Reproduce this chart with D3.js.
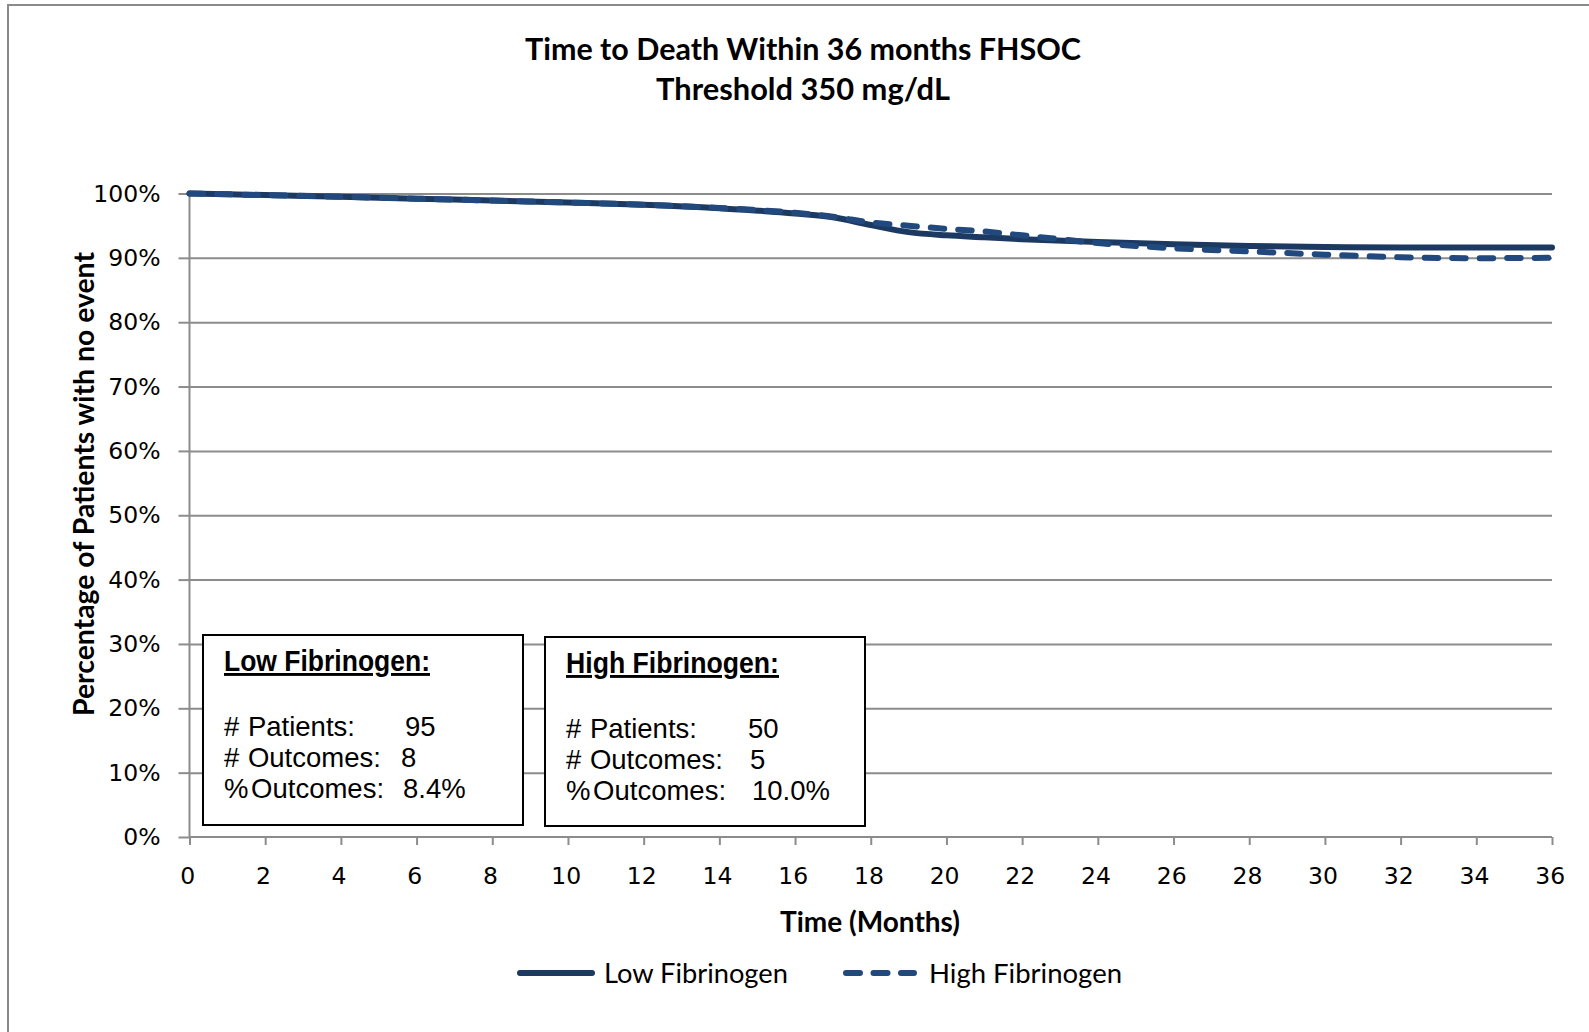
<!DOCTYPE html>
<html>
<head>
<meta charset="utf-8">
<script src="https://cdn.jsdelivr.net/npm/d3@7"></script>
<style>
  html, body { margin: 0; padding: 0; background: #fff; }
  svg { display: block; }
</style>
</head>
<body>
<svg id="chart" width="1589" height="1032"></svg>
<script>
// ---------------- DATA ----------------
const titleLines = ["Time to Death Within 36 months FHSOC", "Threshold 350 mg/dL"];
const yAxisTitle = "Percentage of Patients with no event";
const xAxisTitle = "Time (Months)";
const seriesNames = ["Low Fibrinogen", "High Fibrinogen"];

const lowMonths  = [0, 2, 4, 6, 8, 10, 12, 14, 16, 17, 18, 19, 20, 21, 22, 24, 26, 28, 30, 32, 34, 36];
const lowValues  = [1.000, 0.9975, 0.995, 0.992, 0.989, 0.986, 0.9825, 0.977, 0.969, 0.963, 0.951, 0.940, 0.935, 0.932, 0.929, 0.9245, 0.921, 0.9185, 0.917, 0.916, 0.916, 0.916];

const highMonths = [0, 2, 4, 6, 8, 10, 12, 14, 16, 17, 18, 19, 20, 21, 22, 23, 24, 26, 28, 30, 32, 34, 36];
const highValues = [1.000, 0.9975, 0.995, 0.992, 0.989, 0.986, 0.9825, 0.9775, 0.970, 0.964, 0.955, 0.950, 0.945, 0.941, 0.935, 0.929, 0.923, 0.915, 0.910, 0.905, 0.901, 0.8995, 0.900];

const xTicks = d3.range(0, 37, 2);
const yTicks = [0, 0.1, 0.2, 0.3, 0.4, 0.5, 0.6, 0.7, 0.8, 0.9, 1.0];

const boxTitles = ["Low Fibrinogen:", "High Fibrinogen:"];
const statLabels = ["# Patients:", "# Outcomes:", "% Outcomes:"];
const lowStats  = ["95", "8", "8.4%"];
const highStats = ["50", "5", "10.0%"];

// ---------------- LAYOUT ----------------
const svg = d3.select("#chart");
const plot = { left: 189.5, right: 1552, top: 193.5, bottom: 837 };
const gridColor = "#8c8c8c";
const lowColor = "#1b3961";
const highColor = "#22497e";

const x = d3.scaleLinear().domain([0, 36]).range([plot.left, plot.right]);
const y = d3.scaleLinear().domain([0, 1]).range([plot.bottom, plot.top]);

// chart outer border (only top and left visible in reference)
svg.append("rect")
  .attr("x", 8).attr("y", 5).attr("width", 1700).attr("height", 1200)
  .attr("fill", "#fff").attr("stroke", "#8a8a8a").attr("stroke-width", 2);

function fitText(sel, target) {
  const base = parseFloat(sel.style("font-size"));
  const w = sel.node().getComputedTextLength();
  sel.style("font-size", (base * target / w) + "px");
}

// title
const titleFont = "Lato, 'Open Sans', sans-serif";
const t1 = svg.append("text").attr("x", 803).attr("y", 60)
  .attr("text-anchor", "middle").style("font-family", titleFont)
  .style("font-weight", "bold").style("font-size", "30px").text(titleLines[0]);
fitText(t1, 556);
const t2 = svg.append("text").attr("x", 803).attr("y", 100)
  .attr("text-anchor", "middle").style("font-family", titleFont)
  .style("font-weight", "bold").style("font-size", "30px").text(titleLines[1]);
fitText(t2, 294);

// gridlines
svg.append("g")
  .attr("transform", `translate(${plot.left},0)`)
  .call(d3.axisLeft(y).tickValues(yTicks.filter(d => d > 0)).tickSize(-(plot.right - plot.left)).tickFormat(""))
  .call(g => g.select(".domain").remove())
  .call(g => g.selectAll("line").attr("stroke", gridColor).attr("stroke-width", 2));

// y axis
const tickFont = "'DejaVu Sans', Verdana, sans-serif";
svg.append("g")
  .attr("transform", `translate(${plot.left},0)`)
  .call(d3.axisLeft(y).tickValues(yTicks).tickSize(11).tickPadding(18).tickFormat(d3.format(".0%")))
  .call(g => g.select(".domain").attr("stroke", gridColor).attr("stroke-width", 2)
      .attr("d", `M0,${plot.top}V${plot.bottom}`))
  .call(g => g.selectAll("line").attr("stroke", gridColor).attr("stroke-width", 2))
  .call(g => g.selectAll("text").style("font-family", tickFont).style("font-size", "23.5px").attr("fill", "#000"));

// x axis
svg.append("g")
  .attr("transform", `translate(0,${plot.bottom})`)
  .call(d3.axisBottom(x).tickValues(xTicks).tickSize(8).tickPadding(22).tickFormat(d3.format("d")))
  .call(g => g.select(".domain").attr("stroke", gridColor).attr("stroke-width", 2)
      .attr("d", `M${plot.left},0H${plot.right}`))
  .call(g => g.selectAll("line").attr("stroke", gridColor).attr("stroke-width", 2))
  .call(g => g.selectAll("text").style("font-family", tickFont).style("font-size", "23.5px").attr("fill", "#000")
      .attr("dx", "-0.1em"));

// axis titles
const yt = svg.append("text")
  .attr("transform", "translate(84,484) rotate(-90)")
  .attr("text-anchor", "middle").attr("dy", "0.35em")
  .style("font-family", titleFont).style("font-weight", "bold").style("font-size", "24px")
  .text(yAxisTitle);
fitText(yt, 464);
const xt = svg.append("text")
  .attr("x", 870).attr("y", 922).attr("dy", "0.35em")
  .attr("text-anchor", "middle")
  .style("font-family", titleFont).style("font-weight", "bold").style("font-size", "24px")
  .text(xAxisTitle);
fitText(xt, 180);

// lines
const line = d3.line().x(d => x(d[0])).y(d => y(d[1])).curve(d3.curveMonotoneX);
const lowData = lowMonths.map((m, i) => [m, lowValues[i]]);
const highData = highMonths.map((m, i) => [m, highValues[i]]);

svg.append("path").datum(lowData).attr("d", line)
  .attr("fill", "none").attr("stroke", lowColor).attr("stroke-width", 6)
  .attr("stroke-linecap", "round").attr("stroke-linejoin", "round");
svg.append("path").datum(highData).attr("d", line)
  .attr("fill", "none").attr("stroke", highColor).attr("stroke-width", 6)
  .attr("stroke-dasharray", "13.5,14").attr("stroke-linecap", "round").attr("stroke-linejoin", "round");

// stat boxes
const boxFont = "'Liberation Sans', Arial, sans-serif";
const boxes = [
  { x: 203, y: 635, w: 320, h: 190, title: boxTitles[0], titleW: 206, stats: lowStats, valX: [405, 401, 403] },
  { x: 545, y: 637, w: 320, h: 189, title: boxTitles[1], titleW: 213, stats: highStats, valX: [748, 750, 752] }
];
boxes.forEach(b => {
  const g = svg.append("g");
  g.append("rect").attr("x", b.x).attr("y", b.y).attr("width", b.w).attr("height", b.h)
    .attr("fill", "#fff").attr("stroke", "#000").attr("stroke-width", 2);
  const tx = b.x + 21;
  g.append("text").attr("x", tx).attr("y", b.y + 36)
    .style("font-family", boxFont).style("font-weight", "bold").style("font-size", "29px")
    .style("text-decoration", "underline")
    .attr("textLength", b.titleW).attr("lengthAdjust", "spacingAndGlyphs")
    .text(b.title);
  statLabels.forEach((lab, i) => {
    const by = b.y + 101 + i * 31;
    g.append("text").attr("x", tx).attr("y", by)
      .style("font-family", boxFont).style("font-size", "27.5px")
      .style("word-spacing", i === 2 ? "-5px" : "1px")
      .text(lab);
    g.append("text").attr("x", b.valX[i]).attr("y", by)
      .style("font-family", boxFont).style("font-size", "27.5px").text(b.stats[i]);
  });
});

// legend
const legY = 973;
svg.append("line").attr("x1", 520).attr("x2", 592).attr("y1", legY).attr("y2", legY)
  .attr("stroke", lowColor).attr("stroke-width", 6).attr("stroke-linecap", "round");
svg.append("line").attr("x1", 846).attr("x2", 914).attr("y1", legY).attr("y2", legY)
  .attr("stroke", highColor).attr("stroke-width", 6).attr("stroke-linecap", "round")
  .attr("stroke-dasharray", "14,13.5");
const l1 = svg.append("text").attr("x", 604).attr("y", legY).attr("dy", "0.35em")
  .style("font-family", titleFont).style("font-size", "26px").text(seriesNames[0]);
fitText(l1, 184);
const l2 = svg.append("text").attr("x", 929).attr("y", legY).attr("dy", "0.35em")
  .style("font-family", titleFont).style("font-size", "26px").text(seriesNames[1]);
fitText(l2, 193);
</script>
</body>
</html>
